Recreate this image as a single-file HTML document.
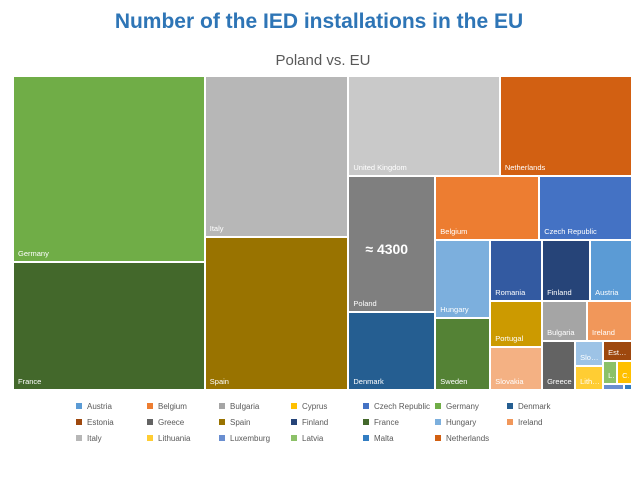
<!DOCTYPE html>
<html><head><meta charset="utf-8">
<style>
body{margin:0;width:638px;height:478px;background:#fff;font-family:"Liberation Sans",sans-serif;position:relative;overflow:hidden}
#title{position:absolute;left:0;width:638px;top:10px;text-align:center;color:#2e75b6;font-weight:bold;font-size:21px}
#sub{position:absolute;left:0;width:646px;top:52px;text-align:center;color:#595959;font-size:15px}
.cell{position:absolute;box-sizing:border-box;border:1px solid #fff;overflow:hidden}
.lab{position:absolute;left:4px;bottom:3px;right:2px;color:#fff;font-size:7.5px;white-space:nowrap;overflow:hidden;text-overflow:ellipsis}
.leg{position:absolute;font-size:8px;color:#595959;white-space:nowrap}
.leg i{display:inline-block;width:6px;height:6px;margin-right:5px;vertical-align:0}
</style></head><body>
<div id="title">Number of the IED installations in the EU</div>
<div id="sub">Poland vs. EU</div>
<div id="plot"></div>
<div id="legend"></div>
<script>
const countries=["Germany","France","Italy","Spain","United Kingdom","Netherlands","Poland","Denmark","Belgium","Czech Republic","Hungary","Sweden","Romania","Finland","Austria","Portugal","Slovakia","Bulgaria","Ireland","Greece","Slovenia","Lithuania","Estonia","Latvia","Cyprus","Luxemburg","Malta"];
const values=[13000,8900,8400,8000,5500,4800,4300,2470,2420,2160,1560,1440,1150,1065,930,870,810,655,655,590,255,244,211,117,125,46,17];
const colors={"Germany":"#70ad47","France":"#43682b","Italy":"#b7b7b7","Spain":"#997300","United Kingdom":"#c9c9c9","Netherlands":"#d26012","Poland":"#7f7f7f","Denmark":"#255e91","Belgium":"#ed7d31","Czech Republic":"#4472c4","Hungary":"#7cafdd","Sweden":"#548235","Romania":"#335aa1","Finland":"#264478","Austria":"#5b9bd5","Portugal":"#cc9a00","Slovakia":"#f4b183","Bulgaria":"#a5a5a5","Ireland":"#f1975a","Greece":"#636363","Slovenia":"#9dc3e6","Lithuania":"#ffcd33","Estonia":"#9e480e","Latvia":"#8cc168","Cyprus":"#ffc000","Luxemburg":"#698ed0","Malta":"#327dc2"};
const legendNames=["Austria","Belgium","Bulgaria","Cyprus","Czech Republic","Germany","Denmark","Estonia","Greece","Spain","Finland","France","Hungary","Ireland","Italy","Lithuania","Luxemburg","Latvia","Malta","Netherlands"];
const tree={d:'h',c:[{d:'v',c:["Germany","France"]},{d:'v',c:["Italy","Spain"]},{d:'v',c:[{d:'h',c:["United Kingdom","Netherlands"]},{d:'h',c:[{d:'v',c:["Poland","Denmark"]},{d:'v',c:[{d:'h',c:["Belgium","Czech Republic"]},{d:'h',c:[{d:'v',c:["Hungary","Sweden"]},{d:'v',c:[{d:'h',c:["Romania","Finland","Austria"]},{d:'h',c:[{d:'v',c:["Portugal","Slovakia"]},{d:'v',c:[{d:'h',c:["Bulgaria","Ireland"]},{d:'h',c:["Greece",{d:'v',c:["Slovenia","Lithuania"]},{d:'v',c:["Estonia",{d:'h',c:["Latvia","Cyprus"]},{d:'h',c:["Luxemburg","Malta"]}]}]}]}]}]}]}]}]}]}]};
function val(n){return typeof n==='string'?values[countries.indexOf(n)]:n.c.reduce((s,k)=>s+val(k),0);}
const plot=document.getElementById('plot');
function lay(n,x,y,w,h){
  if(typeof n==='string'){
    const d=document.createElement('div');d.className='cell';
    
    
    d.style.cssText=`left:${x}px;top:${y}px;width:${w}px;height:${h}px;background:${colors[n]}`;
    if(h>12&&w>10){const l=document.createElement('div');l.className='lab';l.textContent=n;d.appendChild(l);}
    if(n==="Poland"){const b=document.createElement('div');
      
      
      b.textContent='≈ 4300';b.style.cssText='position:absolute;left:16px;top:64px;color:#fff;font-weight:bold;font-size:14px';d.appendChild(b);}
    plot.appendChild(d);return;}
  const tot=val(n);let p=0;
  n.c.forEach(k=>{const f=val(k)/tot;
    if(n.d==='h'){const ww=w*f;lay(k,x+p,y,ww,h);p+=ww;}
    else{const hh=h*f;lay(k,x,y+p,w,hh);p+=hh;}});
}
lay(tree,13,76,619,314);
const lg=document.getElementById('legend');
const lx=[76,147,219,291,363,435,507],ly=[402,418,434];
legendNames.forEach((n,i)=>{const e=document.createElement('div');e.className='leg';
  
  
  e.style.left=lx[i%7]+'px';e.style.top=ly[Math.floor(i/7)]+'px';
  e.innerHTML=`<i style="background:${colors[n]}"></i>${n}`;lg.appendChild(e);});
</script>
</body></html>
